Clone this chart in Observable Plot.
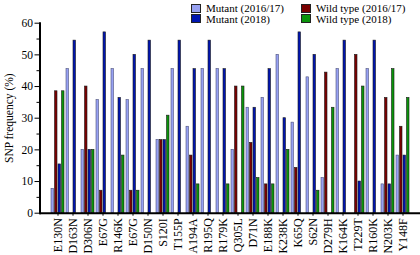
<!DOCTYPE html>
<html><head><meta charset="utf-8">
<script src="https://cdn.jsdelivr.net/npm/d3@7"></script>
<script src="https://cdn.jsdelivr.net/npm/@observablehq/plot@0.6"></script>
<style>
body{margin:0;background:#fff;}
#wrap{position:relative;width:420px;height:255px;font-family:"Liberation Serif","Times New Roman",serif;color:#000;}
#legend{position:absolute;top:0;left:0;width:420px;height:26px;font-size:11px;}
.item{position:absolute;display:flex;align-items:center;white-space:nowrap;line-height:10px;}
.sw{width:10px;height:9px;border:1px solid #222;margin-right:5px;box-sizing:border-box;}
</style></head><body>
<div id="wrap"><div id="chart"></div><div id="legend"></div></div>
<script>
const categories = ["E130N","D163N","D306N","E67G","R146K","E67G","D150N","S120I","T155P","A194A","R195Q","R179K","Q305L","D71N","E188K","K238K","K65Q","S62N","D279H","K164K","T229T","R160K","N203K","Y148F"];
const mutant1617 = [7.7,45.5,20,35.7,45.5,35.7,45.5,23.1,45.5,27.3,45.5,45.5,20,33.3,36.4,50,28.6,42.9,11.1,45.5,0,45.5,9.1,18.2];
const wild1617   = [38.5,0,40,7.1,0,7.1,0,23.1,0,18.2,0,0,40,22.2,9.1,0,14.3,0,44.4,0,50,0,36.4,27.3];
const mutant2018 = [15.4,54.5,20,57.1,36.4,50,54.5,23.1,54.5,45.5,54.5,45.5,0,33.3,45.5,30,57.1,50,0,54.5,10,54.5,9.1,18.2];
const wild2018   = [38.5,0,20,0,18.2,7.1,0,30.8,0,9.1,0,9.1,40,11.1,9.1,20,0,7.1,33.3,0,40,0,45.5,36.4];
const seriesNames = ["Mutant (2016/17)","Wild type (2016/17)","Mutant (2018)","Wild type (2018)"];
const seriesColors = ["#97a1f2","#7a0000","#0015b0","#0b940b"];
const yTicks = [0,10,20,30,40,50,60];
const yMinorTicks = [5,15,25,35,45,55];

const seriesValues = [mutant1617, wild1617, mutant2018, wild2018];
const rows = [];
categories.forEach((c, i) => seriesValues.forEach((vals, k) => rows.push({i, k, value: vals[i]})));

const W = 420, H = 255, mL = 39.5, mR = 0, mT = 22.7, mB = 42.3;
const pIn = 0.105, pOut = 0.21;
const idx = d3.range(categories.length);
const bw = d3.scaleBand().domain(idx).range([mL, W - mR]).paddingInner(pIn).paddingOuter(pOut).bandwidth();
const q = bw / 4;

const bars = seriesColors.map((col, k) => Plot.barY(rows.filter(d => d.k === k && d.value > 0), {
  x: "i", y: "value", fill: col, stroke: k === 0 ? "#4a4f7a" : "#1a1a1a", strokeWidth: 0.6,
  insetLeft: k * q, insetRight: (3 - k) * q
}));

const chart = Plot.plot({
  width: W, height: H,
  marginLeft: mL, marginRight: mR, marginTop: mT, marginBottom: mB,
  style: {fontFamily: '"Liberation Serif","Times New Roman",serif', color: "#000", background: "#fff"},
  x: {domain: idx, paddingInner: pIn, paddingOuter: pOut, axis: null},
  y: {domain: [0, 60], axis: null},
  marks: [
    ...bars,
    Plot.axisX({tickFormat: i => categories[i], tickRotate: -90, tickSize: 3, tickPadding: 2, fontSize: 12, label: null}),
    Plot.axisY({ticks: yTicks, tickSize: 5, tickPadding: 2, fontSize: 11.5, label: "SNP frequency (%)", labelAnchor: "center", labelArrow: false, labelOffset: 35}),
    Plot.axisY({ticks: yMinorTicks, tickSize: 3, fill: "none", label: null}),
    Plot.ruleY([0], {strokeWidth: 2}),
    Plot.frame({anchor: "left", strokeWidth: 2})
  ]
});
document.getElementById("chart").appendChild(chart);

const legend = document.getElementById("legend");
const pos = [[191, 3], [301, 3], [191, 13.5], [301, 13.5]];
const order = [0, 1, 2, 3];
order.forEach((k, j) => {
  const it = document.createElement("div");
  it.className = "item";
  it.style.left = pos[j][0] + "px";
  it.style.top = pos[j][1] + "px";
  const sw = document.createElement("span");
  sw.className = "sw";
  sw.style.background = seriesColors[k];
  const t = document.createElement("span");
  t.textContent = seriesNames[k];
  it.appendChild(sw); it.appendChild(t);
  legend.appendChild(it);
});
</script>
</body></html>
